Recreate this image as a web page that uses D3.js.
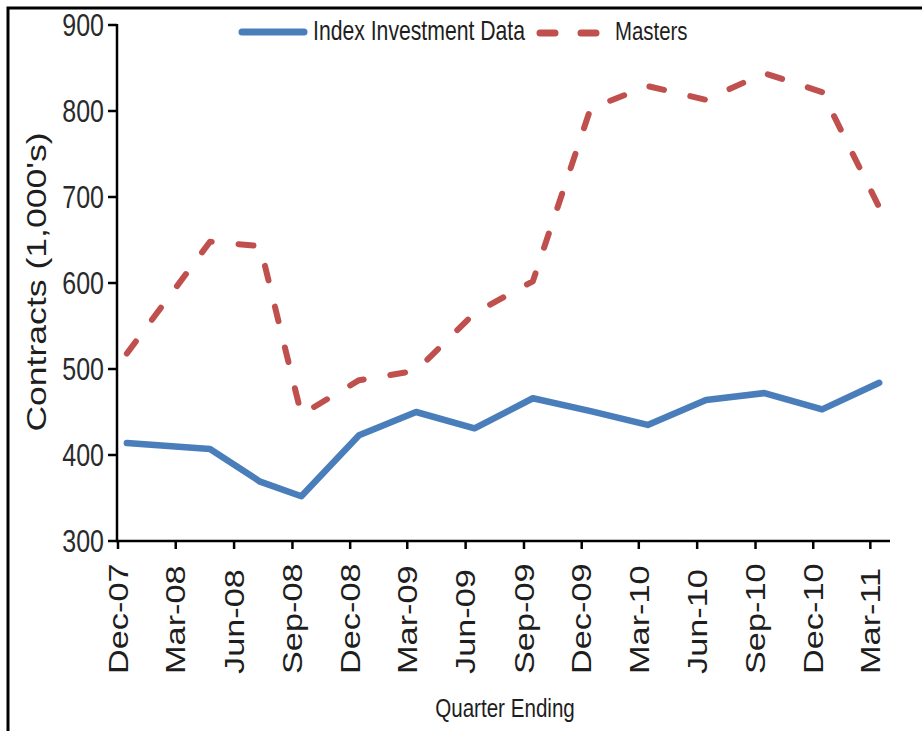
<!DOCTYPE html>
<html>
<head>
<meta charset="utf-8">
<script src="https://cdn.jsdelivr.net/npm/d3@7"></script>
<style>
  body { margin: 0; background: #fff; }
  svg { display: block; }
  text { font-family: "Liberation Sans", Arial, sans-serif; fill: #1e1e1e; }
</style>
</head>
<body>
<svg id="chart"></svg>
<script>
// quarter ending data (1,000's of contracts)
const dates = ['2007-12-15', '2008-04-24', '2008-07-12', '2008-09-15', '2008-12-15', '2009-03-15', '2009-06-15',
  '2009-09-15', '2009-12-15', '2010-03-15', '2010-06-15', '2010-09-15', '2010-12-15', '2011-03-15'];
const indexInvestment = [414, 407, 369, 352, 423, 450, 431, 466, 451, 435, 464, 472, 453, 484];
const masters = [518, 648, 643, 447, 487, 498, 565, 602, 803, 829, 813, 844, 822, 688];

const tickDates = ['2007-12-01', '2008-03-01', '2008-06-01', '2008-09-01', '2008-12-01', '2009-03-01', '2009-06-01',
  '2009-09-01', '2009-12-01', '2010-03-01', '2010-06-01', '2010-09-01', '2010-12-01', '2011-03-01'];
const tickLabels = ['Dec-07', 'Mar-08', 'Jun-08', 'Sep-08', 'Dec-08', 'Mar-09', 'Jun-09',
  'Sep-09', 'Dec-09', 'Mar-10', 'Jun-10', 'Sep-10', 'Dec-10', 'Mar-11'];
const yTicks = [300, 400, 500, 600, 700, 800, 900];

const seriesNames = ['Index Investment Data', 'Masters'];
const colors = ['#4a7ebb', '#c0504d'];

const width = 922, height = 731;
const stretch = 1.27; // text in the source is drawn taller than wide

const parse = d3.timeParse('%Y-%m-%d');

const x = d3.scaleTime()
  .domain([parse('2007-12-01'), parse('2011-04-01')])
  .range([118, 890]);
const y = d3.scaleLinear()
  .domain([300, 900])
  .range([541, 25]);

const svg = d3.select('#chart')
  .attr('width', width)
  .attr('height', height);

// frame
svg.append('rect')
  .attr('x', 8).attr('y', 8)
  .attr('width', 1000).attr('height', 1000)
  .attr('fill', 'none')
  .attr('stroke', '#000')
  .attr('stroke-width', 3);

// y axis
const yAxis = svg.append('g');
yAxis.append('line')
  .attr('x1', 117).attr('x2', 117)
  .attr('y1', y(900) - 1).attr('y2', y(300) + 1)
  .attr('stroke', '#000').attr('stroke-width', 2.5);
yAxis.selectAll('.ytick')
  .data(yTicks)
  .enter().append('line')
  .attr('x1', 108).attr('x2', 117)
  .attr('y1', d => y(d)).attr('y2', d => y(d))
  .attr('stroke', '#000').attr('stroke-width', 2.5);
yAxis.selectAll('.ylabel')
  .data(yTicks)
  .enter().append('text')
  .attr('transform', d => `translate(104,${y(d)}) scale(1,${stretch})`)
  .attr('dy', '0.35em')
  .attr('text-anchor', 'end')
  .style('font-size', '25px')
  .style('fill', '#2a2a2a')
  .text(d => d);

// x axis
const xAxis = svg.append('g');
xAxis.append('line')
  .attr('x1', 116).attr('x2', x(parse('2011-04-01')))
  .attr('y1', y(300)).attr('y2', y(300))
  .attr('stroke', '#000').attr('stroke-width', 2.5);
xAxis.selectAll('.xtick')
  .data(tickDates)
  .enter().append('line')
  .attr('x1', d => x(parse(d))).attr('x2', d => x(parse(d)))
  .attr('y1', y(300)).attr('y2', y(300) + 8)
  .attr('stroke', '#000').attr('stroke-width', 2.5);
xAxis.selectAll('.xlabel')
  .data(tickDates)
  .enter().append('text')
  .attr('transform', d => `translate(${x(parse(d))},674) scale(1,${stretch}) rotate(-90)`)
  .attr('dy', '0.36em')
  .attr('text-anchor', 'start')
  .style('font-size', '27px')
  .text((d, i) => tickLabels[i]);

// axis titles
svg.append('text')
  .attr('transform', `translate(46,282) scale(1,${stretch}) rotate(-90)`)
  .attr('text-anchor', 'middle')
  .style('font-size', '28px')
  .text("Contracts (1,000's)");

svg.append('text')
  .attr('transform', `translate(505,717) scale(1,${stretch})`)
  .attr('text-anchor', 'middle')
  .style('font-size', '20.6px')
  .text('Quarter Ending');

// lines
const line = d3.line()
  .x(d => x(d.date))
  .y(d => y(d.value));

const series = [indexInvestment, masters].map(vals =>
  vals.map((v, i) => ({ date: parse(dates[i]), value: v })));

svg.append('path')
  .datum(series[0])
  .attr('d', line)
  .attr('fill', 'none')
  .attr('stroke', colors[0])
  .attr('stroke-width', 6.5)
  .attr('stroke-linejoin', 'round')
  .attr('stroke-linecap', 'round');

svg.append('path')
  .datum(series[1])
  .attr('d', line)
  .attr('fill', 'none')
  .attr('stroke', colors[1])
  .attr('stroke-width', 6)
  .attr('stroke-dasharray', '15,27')
  .attr('stroke-linejoin', 'round')
  .attr('stroke-linecap', 'round');

// legend
const legend = svg.append('g');
legend.append('line')
  .attr('x1', 242).attr('x2', 304)
  .attr('y1', 32).attr('y2', 32)
  .attr('stroke', colors[0]).attr('stroke-width', 7)
  .attr('stroke-linecap', 'round');
legend.append('text')
  .attr('transform', `translate(313,40) scale(1,${stretch})`)
  .style('font-size', '21.2px')
  .text(seriesNames[0]);
legend.append('line')
  .attr('x1', 540).attr('x2', 596)
  .attr('y1', 33).attr('y2', 33)
  .attr('stroke', colors[1]).attr('stroke-width', 7)
  .attr('stroke-dasharray', '15,26')
  .attr('stroke-linecap', 'round');
legend.append('text')
  .attr('transform', `translate(615,40) scale(1,${stretch})`)
  .style('font-size', '20.4px')
  .text(seriesNames[1]);
</script>
</body>
</html>
